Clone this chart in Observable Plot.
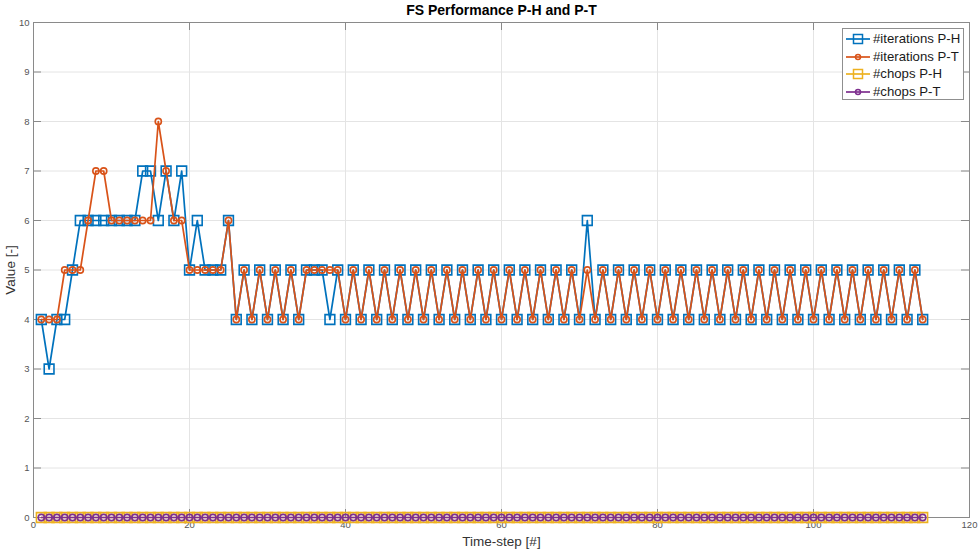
<!DOCTYPE html>
<html>
<head>
<meta charset="utf-8">
<script src="https://cdn.jsdelivr.net/npm/d3@7"></script>
<script src="https://cdn.jsdelivr.net/npm/@observablehq/plot@0.6"></script>
<style>
  html, body { margin: 0; padding: 0; background: #fff; }
  #wrap { position: relative; width: 979px; height: 553px; font-family: "Liberation Sans", Arial, sans-serif; }
  #wrap > svg { position: absolute; left: 0; top: 0; }
  #legend { position: absolute; left: 842px; top: 28px; width: 120px; height: 70px;
            border: 1px solid #8f8f8f; background: #fff; }
  .row { position: absolute; left: 0; height: 18px; width: 120px; }
  .row svg { position: absolute; left: 0; top: 0; }
  .row span { position: absolute; left: 30px; top: 0; line-height: 18px; font-size: 13.2px; color: #1a1a1a; white-space: nowrap; }
</style>
</head>
<body>
<div id="wrap"></div>
<script>
// Solver performance per time step: Newton iterations and time-step chops
// for the P-H and P-T formulations.
const steps = d3.range(1, 115);

const iterPH = [
  4, 3, 4, 4, 5, 6, 6, 6, 6, 6,
  6, 6, 6, 7, 7, 6, 7, 6, 7, 5,
  6, 5, 5, 5, 6, 4, 5, 4, 5, 4,
  5, 4, 5, 4, 5, 5, 5, 4, 5, 4,
  5, 4, 5, 4, 5, 4, 5, 4, 5, 4,
  5, 4, 5, 4, 5, 4, 5, 4, 5, 4,
  5, 4, 5, 4, 5, 4, 5, 4, 5, 4,
  6, 4, 5, 4, 5, 4, 5, 4, 5, 4,
  5, 4, 5, 4, 5, 4, 5, 4, 5, 4,
  5, 4, 5, 4, 5, 4, 5, 4, 5, 4,
  5, 4, 5, 4, 5, 4, 5, 4, 5, 4,
  5, 4, 5, 4
];

const iterPT = [
  4, 4, 4, 5, 5, 5, 6, 7, 7, 6,
  6, 6, 6, 6, 6, 8, 7, 6, 6, 5,
  5, 5, 5, 5, 6, 4, 5, 4, 5, 4,
  5, 4, 5, 4, 5, 5, 5, 5, 5, 4,
  5, 4, 5, 4, 5, 4, 5, 4, 5, 4,
  5, 4, 5, 4, 5, 4, 5, 4, 5, 4,
  5, 4, 5, 4, 5, 4, 5, 4, 5, 4,
  5, 4, 5, 4, 5, 4, 5, 4, 5, 4,
  5, 4, 5, 4, 5, 4, 5, 4, 5, 4,
  5, 4, 5, 4, 5, 4, 5, 4, 5, 4,
  5, 4, 5, 4, 5, 4, 5, 4, 5, 4,
  5, 4, 5, 4
];

const chopsPH = [
  0, 0, 0, 0, 0, 0, 0, 0, 0, 0,
  0, 0, 0, 0, 0, 0, 0, 0, 0, 0,
  0, 0, 0, 0, 0, 0, 0, 0, 0, 0,
  0, 0, 0, 0, 0, 0, 0, 0, 0, 0,
  0, 0, 0, 0, 0, 0, 0, 0, 0, 0,
  0, 0, 0, 0, 0, 0, 0, 0, 0, 0,
  0, 0, 0, 0, 0, 0, 0, 0, 0, 0,
  0, 0, 0, 0, 0, 0, 0, 0, 0, 0,
  0, 0, 0, 0, 0, 0, 0, 0, 0, 0,
  0, 0, 0, 0, 0, 0, 0, 0, 0, 0,
  0, 0, 0, 0, 0, 0, 0, 0, 0, 0,
  0, 0, 0, 0
];

const chopsPT = [
  0, 0, 0, 0, 0, 0, 0, 0, 0, 0,
  0, 0, 0, 0, 0, 0, 0, 0, 0, 0,
  0, 0, 0, 0, 0, 0, 0, 0, 0, 0,
  0, 0, 0, 0, 0, 0, 0, 0, 0, 0,
  0, 0, 0, 0, 0, 0, 0, 0, 0, 0,
  0, 0, 0, 0, 0, 0, 0, 0, 0, 0,
  0, 0, 0, 0, 0, 0, 0, 0, 0, 0,
  0, 0, 0, 0, 0, 0, 0, 0, 0, 0,
  0, 0, 0, 0, 0, 0, 0, 0, 0, 0,
  0, 0, 0, 0, 0, 0, 0, 0, 0, 0,
  0, 0, 0, 0, 0, 0, 0, 0, 0, 0,
  0, 0, 0, 0
];

const xTicks = [0, 20, 40, 60, 80, 100, 120];
const yTicks = [0, 1, 2, 3, 4, 5, 6, 7, 8, 9, 10];

const titleText = "FS Performance P-H and P-T";
const xLabel = "Time-step [#]";
const yLabel = "Value [-]";

const series = [
  { name: "#iterations P-H", values: iterPH, color: "#0072BD", symbol: "square" },
  { name: "#iterations P-T", values: iterPT, color: "#D95319", symbol: "circle" },
  { name: "#chops P-H",      values: chopsPH, color: "#EDB120", symbol: "square" },
  { name: "#chops P-T",      values: chopsPT, color: "#7E2F8E", symbol: "circle" }
];

// Layout of the axes box
const W = 979, H = 553;
const mL = 33, mR = 10, mT = 22, mB = 36;
const pw = W - mL - mR, ph = H - mT - mB;
const tickLen = 8;
const axisColor = "#8a8a8a";

const seriesMarks = series.flatMap(s => {
  const rows = steps.map((t, i) => ({ t, v: s.values[i] }));
  const isSquare = s.symbol === "square";
  return [
    Plot.line(rows, { x: "t", y: "v", stroke: s.color, strokeWidth: 1.7 }),
    Plot.dot(rows, {
      x: "t", y: "v", symbol: s.symbol, r: isSquare ? 5.5 : 3.1,
      stroke: s.color, strokeWidth: 1.6, fill: "none"
    })
  ];
});

const chart = Plot.plot({
  width: W, height: H,
  marginLeft: mL, marginRight: mR, marginTop: mT, marginBottom: mB,
  style: { fontFamily: "Liberation Sans, Arial, sans-serif", fontSize: "9.5px", color: "#555", background: "#fff" },
  x: { domain: [0, 120] },
  y: { domain: [0, 10] },
  marks: [
    Plot.gridX(xTicks, { stroke: "#e4e4e4", strokeOpacity: 1 }),
    Plot.gridY(yTicks, { stroke: "#e4e4e4", strokeOpacity: 1 }),
    // inward tick marks on all four sides
    Plot.tickY(yTicks, { y: d => d, insetRight: pw - tickLen, stroke: axisColor }),
    Plot.tickY(yTicks, { y: d => d, insetLeft: pw - tickLen, stroke: axisColor }),
    Plot.tickX(xTicks, { x: d => d, insetTop: ph - tickLen, stroke: axisColor }),
    Plot.tickX(xTicks, { x: d => d, insetBottom: ph - tickLen, stroke: axisColor }),
    Plot.frame({ stroke: axisColor }),
    Plot.axisX(xTicks, { tickSize: 0, tickPadding: 4, label: null, tickFormat: d3.format("d") }),
    Plot.axisY(yTicks, { tickSize: 0, tickPadding: 4, label: null, tickFormat: d3.format("d") }),
    ...seriesMarks,
    Plot.text([titleText], { frameAnchor: "top", dy: -12, text: d => d, fontWeight: "bold", fontSize: 14, fill: "#000", textAnchor: "middle", lineAnchor: "middle" }),
    Plot.text([xLabel], { frameAnchor: "bottom", dy: 24, text: d => d, fontSize: 13.5, fill: "#333", textAnchor: "middle", lineAnchor: "middle" }),
    Plot.text([yLabel], { frameAnchor: "left", dx: -23, text: d => d, rotate: -90, fontSize: 13.5, fill: "#333", textAnchor: "middle", lineAnchor: "middle" })
  ]
});

const wrap = document.getElementById("wrap");
wrap.appendChild(chart);

// Legend box in the upper right corner
const legend = d3.select(wrap).append("div").attr("id", "legend");
series.forEach((s, i) => {
  const row = legend.append("div").attr("class", "row").style("top", (1 + i * 17.7) + "px");
  const svg = row.append("svg").attr("width", 30).attr("height", 18);
  svg.append("line").attr("x1", 3).attr("x2", 27).attr("y1", 9).attr("y2", 9)
    .attr("stroke", s.color).attr("stroke-width", 1.7);
  if (s.symbol === "square") {
    svg.append("rect").attr("x", 10.5).attr("y", 4.5).attr("width", 9).attr("height", 9)
      .attr("fill", "none").attr("stroke", s.color).attr("stroke-width", 1.5);
  } else {
    svg.append("circle").attr("cx", 15).attr("cy", 9).attr("r", 2.5)
      .attr("fill", "none").attr("stroke", s.color).attr("stroke-width", 1.5);
  }
  row.append("span").text(s.name);
});
</script>
</body>
</html>
